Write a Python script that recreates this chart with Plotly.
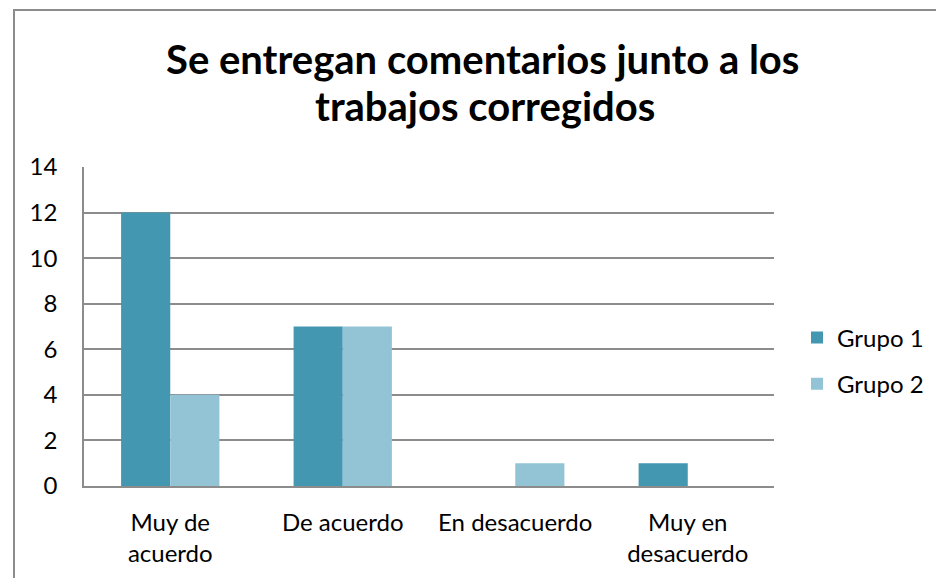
import plotly.graph_objects as go

categories = ["Muy de<br>acuerdo", "De acuerdo", "En desacuerdo", "Muy en<br>desacuerdo"]
grupo1 = [12, 7, 0, 1]
grupo2 = [4, 7, 1, 0]
series_names = ["Grupo 1", "Grupo 2"]
y_ticks = [0, 2, 4, 6, 8, 10, 12, 14]
title_lines = ["Se entregan comentarios junto a los", "trabajos corregidos"]

FONT = "Lato"
L, R, T, B = 84, 162, 167, 92
PW, PH = 936 - L - R, 578 - T - B


def px_x(p):
    return (p - L) / PW


def px_y(p):
    return (578 - B - p) / PH


fig = go.Figure()
fig.add_trace(go.Bar(x=categories, y=grupo1, name=series_names[0],
                     marker=dict(color="#4397B0", line=dict(width=0)), legendgroup="a"))
fig.add_trace(go.Bar(x=categories, y=grupo2, name=series_names[1],
                     marker=dict(color="#93C4D6", line=dict(width=0)), legendgroup="b"))

fig.update_layout(
    width=936, height=578,
    margin=dict(l=L, r=R, t=T, b=B, autoexpand=False),
    paper_bgcolor="white", plot_bgcolor="white",
    barmode="group", bargap=0.43, bargroupgap=0,
    font=dict(family=FONT, size=24, color="#000000"),
    legend=dict(x=px_x(797), y=px_y(361), xanchor="left", yanchor="middle",
                font=dict(family=FONT, size=24), tracegroupgap=12,
                traceorder="grouped", itemwidth=30),
    showlegend=True,
)
for i, (line, cx, cy) in enumerate(zip(title_lines, [482, 485], [59, 106])):
    fig.add_annotation(text="<b>" + line + "</b>", x=px_x(cx), y=px_y(cy),
                       xref="paper", yref="paper", xanchor="center", yanchor="middle",
                       showarrow=False, font=dict(family=FONT, size=40, color="#000000"))

fig.update_yaxes(range=[0, 14], tickvals=y_ticks, showgrid=True, gridcolor="#8C8C8C",
                 gridwidth=1.5, showline=True, linecolor="#8C8C8C", linewidth=1.5,
                 zeroline=False, ticks="", ticklabelstandoff=20, fixedrange=True)
fig.update_xaxes(showline=True, linecolor="#8C8C8C", linewidth=1.5, ticks="",
                 ticklabelstandoff=14, fixedrange=True)

fig.add_shape(type="rect", xref="paper", yref="paper",
              x0=px_x(14), x1=px_x(945), y0=px_y(590), y1=px_y(10),
              line=dict(color="#8C8C8C", width=2), fillcolor="rgba(0,0,0,0)", layer="below")

fig.write_html("out.html", config={"displayModeBar": False},
               post_script="document.body.style.margin='0';")
